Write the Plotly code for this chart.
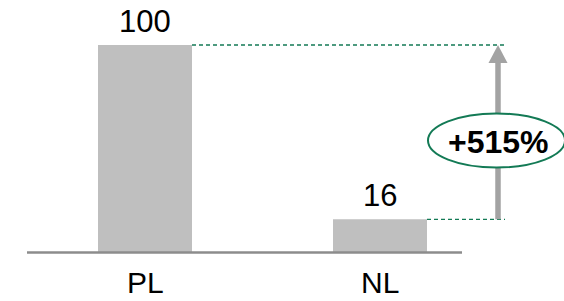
import plotly.graph_objects as go

# ---- data ----
categories = ["PL", "NL"]
values = [100, 16]
change_label = "+515%"

# ---- layout constants (pixel geometry of a 564x301 canvas) ----
W, H = 564, 301
X0_PX, UNIT_PX = 145.0, 235.0        # pixel of first category, pixels per category step
Y0_PX, PX_PER_VAL = 252.5, 2.075     # pixel of value 0, pixels per value unit

def xd(px):
    return (px - X0_PX) / UNIT_PX

def yd_len(px):
    return px / PX_PER_VAL

x_range = [xd(0), xd(W)]
y_range = [-(H - Y0_PX) / PX_PER_VAL, Y0_PX / PX_PER_VAL]

BAR_COLOR = "#BFBFBF"
AXIS_COLOR = "#8C8C8C"
ARROW_COLOR = "#A3A3A3"
GREEN = "#137A55"
FONT = "Liberation Sans, Arial, sans-serif"
FS = 31

xs = list(range(len(categories)))
bar_w = 94 / UNIT_PX

fig = go.Figure()
fig.add_trace(go.Bar(x=xs, y=values, width=bar_w, marker=dict(color=BAR_COLOR, line=dict(width=0)),
                     hoverinfo="skip"))

shapes = []
# baseline
shapes.append(dict(type="line", xref="x", yref="y", x0=xd(27), x1=xd(462), y0=0, y1=0,
                   line=dict(color=AXIS_COLOR, width=2.5)))

arrow_x = xs[-1] + xd(498) - xd(380)
dash_end = arrow_x + 7 / UNIT_PX
# dashed guide lines from bar tops
for xi, v in zip(xs, values):
    shapes.append(dict(type="line", xref="x", yref="y", x0=xi + bar_w / 2, x1=dash_end, y0=v, y1=v,
                       line=dict(color=GREEN, width=1.3, dash="4px,3px")))

top, low = max(values), min(values)
head_len = yd_len(18)
head_half = 9.5 / UNIT_PX
# arrow shaft
shapes.append(dict(type="line", xref="x", yref="y", x0=arrow_x, x1=arrow_x, y0=low, y1=top - head_len + 0.5,
                   line=dict(color=ARROW_COLOR, width=5.5)))
# arrow head
shapes.append(dict(type="path", xref="x", yref="y",
                   path=f"M {arrow_x - head_half},{top - head_len} L {arrow_x + head_half},{top - head_len} L {arrow_x},{top} Z",
                   fillcolor=ARROW_COLOR, line=dict(width=0)))
# ellipse around label
ell_cy = yd_len(Y0_PX - 140.5)
shapes.append(dict(type="circle", xref="x", yref="y",
                   x0=arrow_x - 70 / UNIT_PX, x1=arrow_x + 67 / UNIT_PX,
                   y0=ell_cy - yd_len(27), y1=ell_cy + yd_len(27),
                   fillcolor="white", line=dict(color=GREEN, width=2)))

annotations = []
for xi, v in zip(xs, values):
    annotations.append(dict(x=xi, y=v, xref="x", yref="y", text=str(v), showarrow=False,
                            yanchor="bottom", yshift=4, font=dict(family=FONT, size=FS, color="#000000")))
    annotations.append(dict(x=xi, y=0, xref="x", yref="y", text=categories[xi], showarrow=False,
                            yanchor="top", yshift=-12, borderpad=0,
                            font=dict(family=FONT, size=30, color="#000000")))
annotations.append(dict(x=arrow_x, y=ell_cy, xref="x", yref="y", text=f"<b>{change_label}</b>",
                        showarrow=False, yanchor="middle", xanchor="center", yshift=-1,
                        font=dict(family=FONT, size=32, color="#000000")))

fig.update_layout(
    width=W, height=H,
    margin=dict(l=0, r=0, t=0, b=0),
    paper_bgcolor="white", plot_bgcolor="white",
    showlegend=False,
    xaxis=dict(range=x_range, visible=False, fixedrange=True),
    yaxis=dict(range=y_range, visible=False, fixedrange=True),
    shapes=shapes, annotations=annotations,
)

fig.write_html("out.html", config={"displayModeBar": False},
               post_script="document.body.style.margin='0';document.body.style.overflow='hidden';")
